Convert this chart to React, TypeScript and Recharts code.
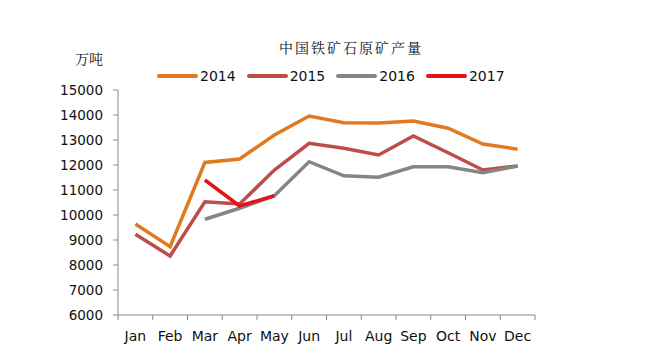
import React from "react";
import { LineChart, Line, XAxis, YAxis } from "recharts";

const months = ["Jan", "Feb", "Mar", "Apr", "May", "Jun", "Jul", "Aug", "Sep", "Oct", "Nov", "Dec"];
const s2014 = [9640, 8730, 12100, 12240, 13200, 13960, 13690, 13680, 13760, 13470, 12840, 12630];
const s2015 = [9230, 8360, 10530, 10440, 11800, 12870, 12670, 12400, 13160, 12490, 11800, 11960];
const s2016 = [null, null, 9830, 10270, 10770, 12130, 11570, 11510, 11930, 11930, 11690, 11960];
const s2017 = [null, null, 11400, 10360, 10770, null, null, null, null, null, null, null];
const yTicks = [6000, 7000, 8000, 9000, 10000, 11000, 12000, 13000, 14000, 15000];

const series = [
  { key: "2014", values: s2014, color: "#E17A1E" },
  { key: "2015", values: s2015, color: "#BE4D4A" },
  { key: "2016", values: s2016, color: "#858585" },
  { key: "2017", values: s2017, color: "#E4121B" },
];

const data = months.map((m, i) => {
  const row: any = { month: m };
  series.forEach((s) => (row[s.key] = s.values[i]));
  return row;
});

const W = 650;
const H = 361;
const M = { top: 82, right: 123, bottom: 24, left: 50 };
const Y_W = 60;
const X_H = 30;
const plotLeft = M.left + Y_W;
const plotW = W - plotLeft - M.right;
const step = plotW / months.length;
const font = "'DejaVu Sans', Verdana, sans-serif";
const cjk = "'Noto Serif CJK SC', 'Noto Sans CJK SC', serif";
const axisColor = "#888888";

const XTick = (props: any) => {
  const { x, y, payload, index } = props;
  const half = step / 2;
  return (
    <g>
      <line x1={x - half} x2={x - half} y1={y - 8} y2={y - 3} stroke={axisColor} strokeWidth={1} />
      {index === months.length - 1 && (
        <line x1={x + half} x2={x + half} y1={y - 8} y2={y - 3} stroke={axisColor} strokeWidth={1} />
      )}
      <text x={x} y={y + 18} textAnchor="middle" fontFamily={font} fontSize={14} fill="#111">
        {payload.value}
      </text>
    </g>
  );
};

export default function App() {
  return (
    <div style={{ position: "relative", width: W, height: H, background: "#fff" }}>
      <LineChart width={W} height={H} data={data} margin={M}>
        <XAxis
          dataKey="month"
          height={X_H}
          padding={{ left: step / 2, right: step / 2 }}
          tickLine={false}
          axisLine={{ stroke: axisColor, strokeWidth: 1 }}
          tick={<XTick />}
          interval={0}
        />
        <YAxis
          width={Y_W}
          domain={[6000, 15000]}
          ticks={yTicks}
          interval={0}
          tickSize={5}
          tickMargin={10}
          tickLine={{ stroke: axisColor }}
          axisLine={{ stroke: axisColor, strokeWidth: 1 }}
          tick={{ fontFamily: font, fontSize: 13.5, fill: "#111" }}
        />
        {series.map((s) => (
          <Line
            key={s.key}
            dataKey={s.key}
            stroke={s.color}
            strokeWidth={3.5}
            dot={false}
            activeDot={false}
            isAnimationActive={false}
            connectNulls={false}
            strokeLinejoin="miter"
          />
        ))}
      </LineChart>
      <div
        style={{
          position: "absolute",
          left: 0,
          width: 686,
          top: 29,
          textAlign: "center",
          fontFamily: cjk,
          fontSize: 14,
          letterSpacing: 2,
          color: "#111",
        }}
      >
        中国铁矿石原矿产量
      </div>
      <div
        style={{
          position: "absolute",
          left: 67,
          top: 40,
          fontFamily: cjk,
          fontSize: 14,
          color: "#111",
        }}
      >
        万吨
      </div>
      <div style={{ position: "absolute", left: 149, top: 58, display: "flex", alignItems: "center" }}>
        {series.map((s) => (
          <div key={s.key} style={{ display: "flex", alignItems: "center", marginRight: 11 }}>
            <div style={{ width: 41, height: 4, background: s.color, borderRadius: 2, marginRight: 2 }} />
            <span style={{ fontFamily: font, fontSize: 14, color: "#111", lineHeight: "20px" }}>{s.key}</span>
          </div>
        ))}
      </div>
    </div>
  );
}
